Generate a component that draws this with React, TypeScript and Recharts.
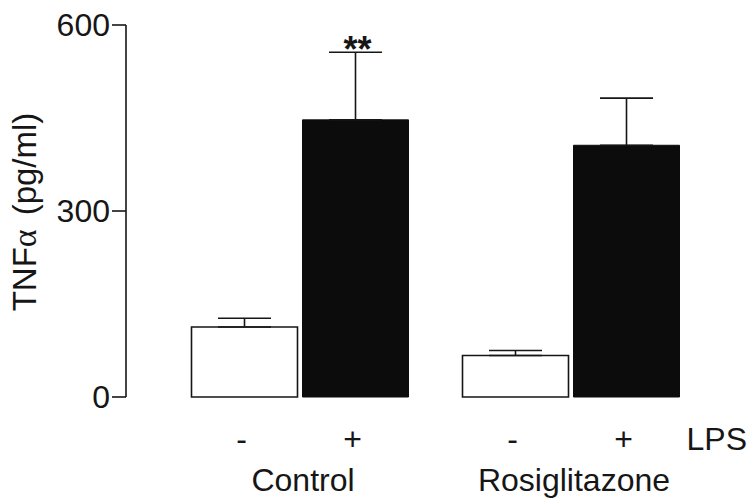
import React from 'react';
import { BarChart, Bar, XAxis, YAxis, ErrorBar, LabelList } from 'recharts';

const groups = ['Control', 'Rosiglitazone'];
const lpsLabels = ['-', '+'];
const minusMean = [113, 67];
const minusErr = [14, 8];
const plusMean = [447, 406];
const plusErr = [109, 76];
const plusSig = ['**', ''];
const yTicks = [0, 300, 600];
const yLabelMain = 'TNF';
const yLabelGreek = 'α';
const yLabelUnit = '(pg/ml)';
const lpsTitle = 'LPS';

const data = groups.map((g, i) => ({
  group: g,
  minus: minusMean[i],
  minusE: [0, minusErr[i]],
  plus: plusMean[i],
  plusE: [0, plusErr[i]],
  sig: plusSig[i],
}));

const BAR = 106;
const GAP = 5;
const FONT = '"Liberation Sans", Arial, sans-serif';
const INK = '#161616';

const GroupTick = (props: any) => {
  const { x, y, payload } = props;
  const off = (BAR + GAP) / 2;
  return (
    <g fontFamily={FONT} fontSize={32} fill={INK}>
      <text x={x - off - 3} y={y + 53} textAnchor="middle" fill={INK}>{lpsLabels[0]}</text>
      <text x={x + off - 3} y={y + 53} textAnchor="middle" fill={INK}>{lpsLabels[1]}</text>
      <text x={x + 3} y={y + 94} textAnchor="middle" fill={INK}>{payload.value}</text>
    </g>
  );
};

const StarLabel = (props: any) => {
  const { x, y, width, height, index, value } = props;
  if (!value) return null;
  const errTop = y - (plusErr[index] * height) / plusMean[index];
  return (
    <text x={x + width / 2 + 2} y={errTop + 10} textAnchor="middle" fontFamily={FONT} fontSize={36} fontWeight="bold" fill={INK}>
      {value}
    </text>
  );
};

const YLabel = (props: any) => {
  const vb = props.viewBox || {};
  const cx = 36;
  const cy = vb.y + vb.height / 2 + 1;
  return (
    <text transform={`rotate(-90, ${cx}, ${cy})`} x={cx} y={cy} textAnchor="middle" fontFamily={FONT} fontSize={33} fill={INK}>
      {yLabelMain}
      <tspan fontFamily='"Liberation Serif", serif' fontSize={34}>{yLabelGreek}</tspan>
      <tspan dx={14}>{yLabelUnit}</tspan>
    </text>
  );
};

const LpsLabel = (props: any) => {
  const vb = props.viewBox || {};
  return (
    <text x={vb.x + vb.width - 2} y={vb.y + 53} textAnchor="end" fontFamily={FONT} fontSize={32} fill={INK}>
      {lpsTitle}
    </text>
  );
};

export default function App() {
  return (
    <div style={{ width: 749, height: 504, background: '#ffffff' }}>
      <style>{'body{margin:0;background:#ffffff;}'}</style>
      <BarChart
        width={749}
        height={504}
        data={data}
        margin={{ top: 25, right: 0, bottom: 0, left: 0 }}
        barSize={BAR}
        barGap={GAP}
      >
        <XAxis
          dataKey="group"
          axisLine={false}
          tickLine={false}
          tickSize={0}
          tickMargin={0}
          height={107}
          padding={{ left: 38.5, right: 42.5 }}
          tick={<GroupTick />}
          interval={0}
          label={<LpsLabel />}
        />
        <YAxis
          domain={[0, 600]}
          ticks={yTicks}
          width={126}
          tickSize={14}
          tickMargin={2}
          axisLine={{ stroke: INK, strokeWidth: 1.6 }}
          tickLine={{ stroke: INK, strokeWidth: 1.6 }}
          tick={{ fill: INK, fontSize: 32, fontFamily: FONT }}
          label={<YLabel />}
          interval={0}
        />
        <Bar dataKey="minus" fill="#ffffff" stroke={INK} strokeWidth={1.6} isAnimationActive={false}>
          <ErrorBar dataKey="minusE" width={26.5} stroke={INK} strokeWidth={1.6} direction="y" />
        </Bar>
        <Bar dataKey="plus" fill="#0c0c0c" stroke="#0c0c0c" strokeWidth={1} isAnimationActive={false}>
          <ErrorBar dataKey="plusE" width={26.5} stroke={INK} strokeWidth={1.6} direction="y" />
          <LabelList dataKey="sig" content={<StarLabel />} />
        </Bar>
      </BarChart>
    </div>
  );
}
